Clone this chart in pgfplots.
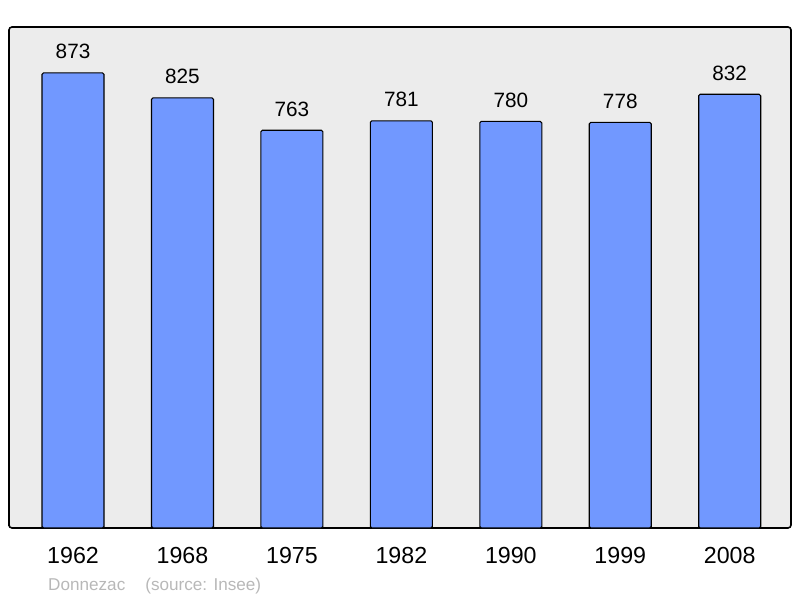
\documentclass[border=0pt]{standalone}
\usepackage{pgfplots}
\pgfplotsset{compat=1.18}
\usepackage{fontspec}
\setmainfont{Liberation Sans}
\definecolor{barblue}{HTML}{7198FF}
\definecolor{panel}{HTML}{ECECEC}
\definecolor{note}{HTML}{B8B8B8}
\begin{document}
\begin{tikzpicture}
\path (0bp,0bp) rectangle (800bp,598bp);
\begin{axis}[
    at={(9bp,70bp)}, anchor=south west,
    scale only axis,
    width=782bp, height=501bp,
    xmin=-0.585, xmax=6.56,
    ymin=0, ymax=961,
    ybar, bar width=62bp, bar shift=0pt,
    axis background/.style={fill=panel},
    axis line style={line width=1.6bp, rounded corners=3bp},
    xtick=data,
    xticklabels={1962,1968,1975,1982,1990,1999,2008},
    x tick label style={font=\fontsize{23.3}{26}\selectfont, yshift=-16bp},
    ytick=\empty, major tick length=0pt,
    nodes near coords,
    every node near coord/.append style={font=\fontsize{20.8}{24}\selectfont, yshift=10bp},
    /pgf/number format/assume math mode=true,
    clip=false,
]
\addplot[fill=barblue, draw=black, line width=1.1bp, rounded corners=1.5bp] coordinates {
    (0,873) (1,825) (2,763) (3,781) (4,780) (5,778) (6,832)
};
\end{axis}
\node[anchor=base west, text=note, font=\fontsize{17.2}{20}\selectfont, inner sep=0pt] at (48bp,8bp) {Donnezac\hspace{20bp}(source: Insee)};
\end{tikzpicture}
\end{document}
